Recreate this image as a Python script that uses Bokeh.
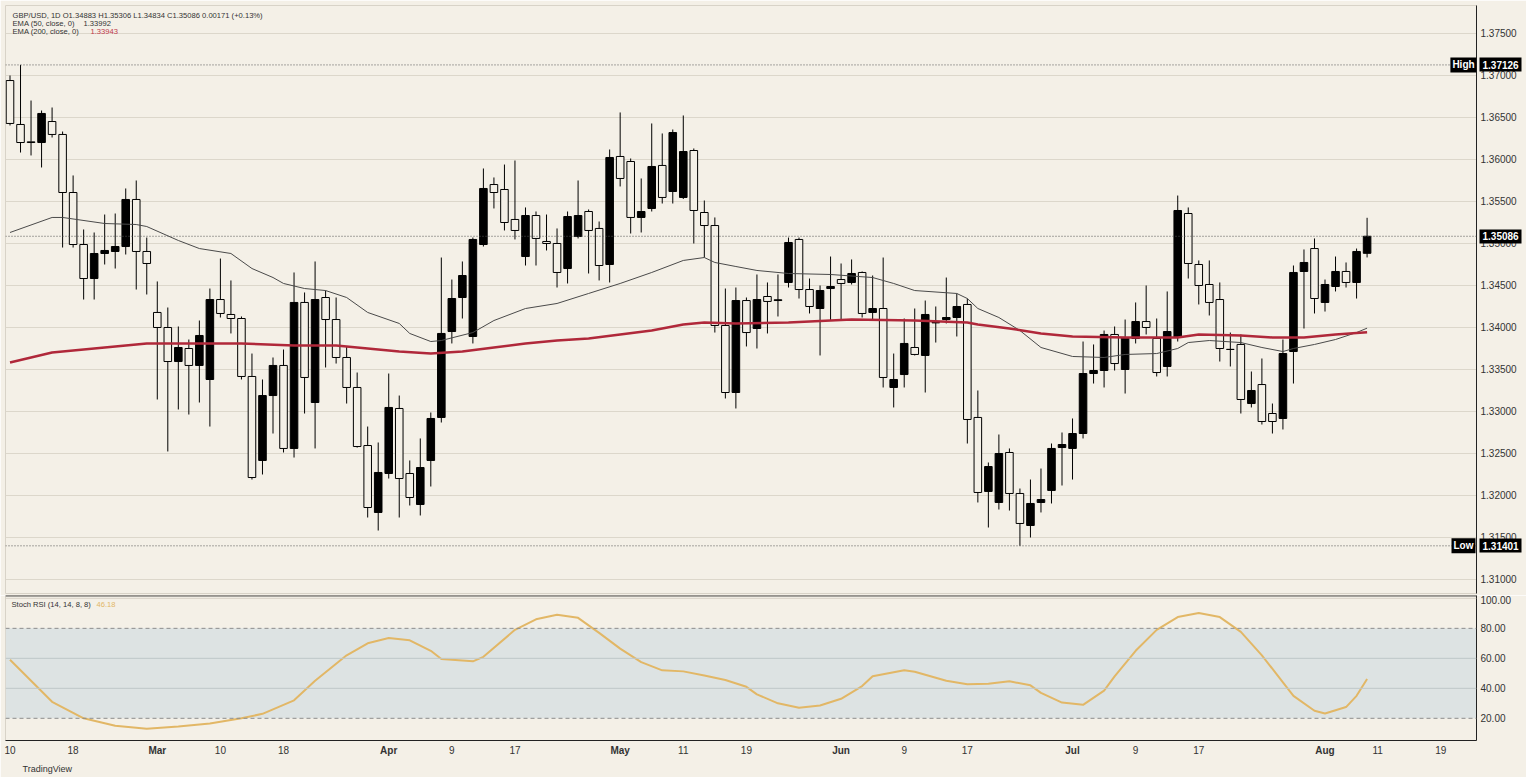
from bokeh.plotting import figure
from bokeh.models import (Range1d, Span, Label, FixedTicker, BoxAnnotation, LinearAxis, Title,
                          NumeralTickFormatter, ColumnDataSource)
from bokeh.layouts import column
from bokeh.embed import file_html
from bokeh.resources import INLINE

# ---------------- data (GBP/USD daily) ----------------
opens = [
    1.36940, 1.36417, 1.36210, 1.36202, 1.36452, 1.36298, 1.35607, 1.34988, 1.34583, 1.34881,
    1.34905, 1.34964, 1.35524, 1.34905, 1.34179, 1.34000, 1.33595, 1.33750, 1.33548, 1.33381,
    1.34333, 1.34155, 1.34107, 1.33417, 1.32417, 1.33190, 1.33548, 1.32560, 1.34298, 1.33107,
    1.34357, 1.34095, 1.33643, 1.33286, 1.32595, 1.31798, 1.32262, 1.33036, 1.32262, 1.31893,
    1.32417, 1.32929, 1.33952, 1.34357, 1.33893, 1.34988, 1.35702, 1.35643, 1.35286, 1.34845,
    1.35333, 1.35024, 1.35000, 1.34702, 1.35083, 1.35381, 1.35179, 1.34750, 1.36036, 1.35976,
    1.35310, 1.35417, 1.35929, 1.35619, 1.35548, 1.36107, 1.35369, 1.35214, 1.34024, 1.33226,
    1.34321, 1.33988, 1.34369, 1.34321, 1.34536, 1.35048, 1.34452, 1.34226, 1.34464, 1.34571,
    1.34536, 1.34655, 1.34179, 1.34226, 1.33286, 1.33440, 1.33762, 1.33667, 1.34060, 1.34095,
    1.34119, 1.34274, 1.32929, 1.32048, 1.31917, 1.32512, 1.32024, 1.31643, 1.31917, 1.32060,
    1.32571, 1.32560, 1.32738, 1.33452, 1.33488, 1.33917, 1.33500, 1.33869, 1.34071, 1.33869,
    1.33536, 1.33881, 1.35357, 1.34750, 1.34512, 1.34333, 1.33740, 1.33798, 1.33095, 1.33321,
    1.32976, 1.32917, 1.33714, 1.34667, 1.34940, 1.34298, 1.34488, 1.34667, 1.34536, 1.34883,
]
highs = [
    1.37000, 1.37126, 1.36702, 1.36583, 1.36619, 1.36333, 1.35810, 1.35167, 1.35131, 1.35345,
    1.35357, 1.35655, 1.35750, 1.35071, 1.34548, 1.34238, 1.34012, 1.33857, 1.34083, 1.34464,
    1.34821, 1.34560, 1.34131, 1.33690, 1.33381, 1.33643, 1.33738, 1.34655, 1.34417, 1.34786,
    1.34440, 1.34357, 1.33774, 1.33464, 1.32821, 1.32631, 1.33452, 1.33190, 1.32417, 1.32679,
    1.32988, 1.34833, 1.34571, 1.34786, 1.35071, 1.35893, 1.35786, 1.35940, 1.35988, 1.35429,
    1.35381, 1.35345, 1.35179, 1.35381, 1.35750, 1.35405, 1.35262, 1.36119, 1.36560, 1.36012,
    1.35774, 1.36429, 1.36310, 1.36357, 1.36524, 1.36131, 1.35512, 1.35310, 1.34464, 1.34476,
    1.34357, 1.34631, 1.34536, 1.34631, 1.35071, 1.35071, 1.34583, 1.34500, 1.34845, 1.34762,
    1.34810, 1.34667, 1.34619, 1.34833, 1.33690, 1.34107, 1.34226, 1.34321, 1.34250, 1.34595,
    1.34405, 1.34345, 1.33250, 1.32393, 1.32726, 1.32560, 1.32083, 1.32190, 1.32321, 1.32619,
    1.32750, 1.32917, 1.33833, 1.33798, 1.33964, 1.34012, 1.34095, 1.34298, 1.34500, 1.34107,
    1.34429, 1.35571, 1.35429, 1.34798, 1.34798, 1.34536, 1.33940, 1.33917, 1.33476, 1.33631,
    1.33095, 1.33857, 1.34738, 1.34929, 1.35060, 1.34571, 1.34845, 1.34774, 1.34940, 1.35306,
]
lows = [
    1.36405, 1.36083, 1.36048, 1.35905, 1.36262, 1.34952, 1.34952, 1.34333, 1.34333, 1.34750,
    1.34702, 1.34869, 1.34452, 1.34393, 1.33143, 1.32524, 1.33024, 1.32964, 1.33107, 1.32821,
    1.34119, 1.33929, 1.33381, 1.32190, 1.32250, 1.32738, 1.32512, 1.32452, 1.32976, 1.32560,
    1.33524, 1.33571, 1.33095, 1.32570, 1.31738, 1.31583, 1.32202, 1.31738, 1.31881, 1.31762,
    1.32107, 1.32869, 1.33810, 1.34107, 1.33810, 1.34964, 1.35417, 1.35155, 1.35048, 1.34738,
    1.34738, 1.34917, 1.34476, 1.34524, 1.35060, 1.34643, 1.34560, 1.34536, 1.35679, 1.35119,
    1.35131, 1.35381, 1.35476, 1.35476, 1.35530, 1.35000, 1.34833, 1.33940, 1.33155, 1.33036,
    1.33774, 1.33750, 1.33929, 1.34131, 1.34476, 1.34345, 1.34167, 1.33667, 1.34083, 1.34083,
    1.34512, 1.34119, 1.34095, 1.33286, 1.33048, 1.33286, 1.33667, 1.33226, 1.33821, 1.34048,
    1.33893, 1.32619, 1.31917, 1.31619, 1.31833, 1.31821, 1.31401, 1.31500, 1.31798, 1.31905,
    1.32119, 1.32190, 1.32679, 1.33333, 1.33286, 1.33488, 1.33214, 1.33810, 1.33917, 1.33417,
    1.33417, 1.33833, 1.34583, 1.34274, 1.34143, 1.33595, 1.33536, 1.32976, 1.33048, 1.32845,
    1.32738, 1.32786, 1.33333, 1.33988, 1.34167, 1.34190, 1.34429, 1.34476, 1.34345, 1.34834,
]
closes = [
    1.36429, 1.36202, 1.36202, 1.36548, 1.36298, 1.35607, 1.34988, 1.34583, 1.34881, 1.34917,
    1.34964, 1.35524, 1.34905, 1.34762, 1.34000, 1.33595, 1.33762, 1.33548, 1.33905, 1.34333,
    1.34167, 1.34107, 1.33417, 1.32214, 1.33190, 1.33548, 1.32560, 1.34298, 1.33405, 1.34333,
    1.34095, 1.33643, 1.33286, 1.32583, 1.31857, 1.32274, 1.33048, 1.32202, 1.31976, 1.32333,
    1.32917, 1.33929, 1.34345, 1.34619, 1.35048, 1.35655, 1.35607, 1.35250, 1.35155, 1.35333,
    1.35060, 1.35000, 1.34655, 1.35321, 1.35333, 1.35155, 1.34738, 1.36024, 1.35774, 1.35310,
    1.35381, 1.35917, 1.35548, 1.36321, 1.36095, 1.35393, 1.35214, 1.34024, 1.33226, 1.34321,
    1.33940, 1.34333, 1.34310, 1.34330, 1.35012, 1.34452, 1.34250, 1.34440, 1.34488, 1.34524,
    1.34643, 1.34167, 1.34226, 1.33405, 1.33381, 1.33810, 1.33679, 1.34155, 1.34055, 1.34119,
    1.34250, 1.32905, 1.32036, 1.32345, 1.32500, 1.32024, 1.31667, 1.31905, 1.31952, 1.32560,
    1.32607, 1.32738, 1.33452, 1.33488, 1.33917, 1.33571, 1.33881, 1.34071, 1.34000, 1.33464,
    1.33952, 1.35393, 1.34762, 1.34500, 1.34298, 1.33750, 1.33738, 1.33143, 1.33250, 1.32881,
    1.32881, 1.33690, 1.34655, 1.34774, 1.34345, 1.34512, 1.34667, 1.34536, 1.34905, 1.35086,
]

ema50_idx = [0, 4, 5, 9, 12, 13, 16, 18, 21, 23, 25, 26, 28, 30, 32, 34, 37, 38, 40, 41,
             44, 46, 49, 52, 55, 58, 61, 64, 66, 67, 69, 71, 74, 78, 82, 84, 86, 90, 91, 92,
             94, 96, 98, 101, 104, 106, 109, 111, 112, 114, 117, 119, 121, 122, 124, 126, 128, 129]
ema50_val = [1.35131, 1.35310, 1.35310, 1.35238, 1.35226, 1.35202, 1.35036, 1.34940, 1.34881, 1.34702,
             1.34595, 1.34524, 1.34464, 1.34440, 1.34357, 1.34179, 1.34048, 1.33929, 1.33833, 1.33845,
             1.33940, 1.34083, 1.34226, 1.34286, 1.34405, 1.34524, 1.34655, 1.34798, 1.34833, 1.34774,
             1.34726, 1.34679, 1.34643, 1.34631, 1.34595, 1.34524, 1.34440, 1.34405, 1.34345, 1.34226,
             1.34119, 1.33964, 1.33762, 1.33655, 1.33643, 1.33679, 1.33690, 1.33750, 1.33821, 1.33845,
             1.33821, 1.33762, 1.33714, 1.33750, 1.33798, 1.33857, 1.33940, 1.33992]

ema200_idx = [0, 4, 9, 13, 18, 22, 27, 31, 33, 35, 37, 40, 43, 46, 49, 52, 55, 58, 61, 64,
              66, 69, 74, 80, 86, 91, 92, 95, 98, 101, 106, 111, 113, 117, 120, 123, 126, 129]
ema200_val = [1.33583, 1.33702, 1.33762, 1.33810, 1.33810, 1.33810, 1.33786, 1.33786, 1.33762, 1.33738,
              1.33714, 1.33690, 1.33714, 1.33762, 1.33810, 1.33845, 1.33869, 1.33917, 1.33964, 1.34036,
              1.34060, 1.34048, 1.34060, 1.34095, 1.34083, 1.34060, 1.34036, 1.33988, 1.33929, 1.33893,
              1.33881, 1.33881, 1.33917, 1.33905, 1.33881, 1.33881, 1.33917, 1.33943]

stoch_idx = [0, 4, 7, 10, 13, 16, 19, 22, 24, 27, 29, 32, 34, 36, 38, 40, 41, 44, 45, 48,
             50, 52, 54, 56, 58, 60, 62, 64, 66, 68, 70, 71, 73, 75, 77, 79, 81, 82, 85, 86,
             89, 91, 93, 95, 97, 98, 100, 102, 104, 105, 107, 109, 111, 113, 115, 117, 119, 121, 122, 124,
             125, 127, 128, 129]
stoch_val = [59, 31, 20, 15, 13, 14.5, 16.5, 20, 23, 32, 45, 62, 70, 73.5, 72, 65, 59.5, 58, 61, 79,
             86, 89, 87, 77, 66.5, 57.5, 52, 51.3, 48.5, 45.5, 41, 36, 30, 27, 28.5, 33, 41.5, 48, 52, 51,
             45, 42.7, 43, 44.7, 42, 37, 30.5, 29, 38.5, 48, 65, 79, 87.5, 90.2, 87.5, 77.6, 62, 44, 35, 25,
             23.2, 27.5, 35, 46.18]

price_ticks = [1.310, 1.315, 1.320, 1.325, 1.330, 1.335, 1.340, 1.345, 1.350,
               1.355, 1.360, 1.365, 1.370, 1.375]
stoch_ticks = [20, 40, 60, 80, 100]

day_idx = [0, 6, 20, 26, 42, 48, 64, 70, 85, 91, 107, 113, 130, 136]
day_lbl = ["10", "18", "10", "18", "9", "17", "11", "19", "9", "17", "9", "17", "11", "19"]
month_idx = [14, 36, 58, 79, 101, 125]
month_lbl = ["Mar", "Apr", "May", "Jun", "Jul", "Aug"]

high_val, low_val, last_val = 1.37126, 1.31401, 1.35086

# ---------------- layout / styling ----------------
BG = "#f4f0e7"
FONT = "Liberation Sans"
W = 1526
LEFT = 5
FRAME_W = 1471
RIGHT = W - LEFT - FRAME_W
PRICE_TOP = 5
PRICE_H = 588
STOCH_H = 146
STOCH_BOTTOM = 36
AXIS_W = 41        # width taken by the regular price axis labels
DAY_AXIS_H = 17    # height taken by the day-number axis

XR0, XR1 = -0.428, 139.40
PY0, PY1 = 1.308333, 1.378333
SY0, SY1 = 5.2, 101.9


def style_axis(a):
    a.major_tick_out = 0
    a.major_tick_in = 0
    a.minor_tick_out = 0
    a.minor_tick_in = 0
    a.axis_line_color = "#222222"
    a.major_label_text_font = FONT
    a.major_label_text_font_size = "10px"
    a.major_label_text_color = "#333333"


n = len(opens)
xs = list(range(n))
up = [c >= o for o, c in zip(opens, closes)]
src = ColumnDataSource(dict(
    x=xs, high=highs, low=lows,
    top=[max(o, c) for o, c in zip(opens, closes)],
    bottom=[min(o, c) for o, c in zip(opens, closes)],
    fill=["#000000" if u else BG for u in up],
))

xr = Range1d(XR0, XR1)

p = figure(width=W, height=PRICE_TOP + PRICE_H + 2, x_range=xr, y_range=Range1d(PY0, PY1),
           output_backend="svg", toolbar_location=None,
           x_axis_location=None, y_axis_location="right",
           background_fill_color=BG, border_fill_color=BG,
           min_border_left=LEFT, min_border_right=RIGHT, min_border_top=PRICE_TOP,
           min_border_bottom=2, outline_line_color="#d8d3c8")

ay = p.yaxis[0]
style_axis(ay)
ay.ticker = FixedTicker(ticks=price_ticks)
ay.formatter = NumeralTickFormatter(format="0.00000")
ay.major_label_standoff = 4
p.ygrid.ticker = FixedTicker(ticks=price_ticks)
p.ygrid.grid_line_color = "#dcd7cb"
p.xgrid.visible = False

# black value tags on the price scale (drawn as wide ticks of a second axis)
tag_ax = LinearAxis(ticker=FixedTicker(ticks=[high_val, last_val, low_val]),
                    formatter=NumeralTickFormatter(format="0.00000"))
style_axis(tag_ax)
tag_ax.axis_line_color = None
tag_ax.major_tick_in = AXIS_W - 1
tag_ax.major_tick_out = 2
tag_ax.major_tick_line_width = 14
tag_ax.major_tick_line_color = "#000000"
tag_ax.major_tick_line_cap = "butt"
tag_ax.major_label_standoff = -(AXIS_W + 2 - 4)
tag_ax.major_label_text_color = "#ffffff"
tag_ax.major_label_text_font_style = "bold"
p.add_layout(tag_ax, "right")

for lv in (high_val, last_val, low_val):
    p.add_layout(Span(location=lv, dimension="width", line_color="#555555",
                      line_dash="1 2", line_width=1))

p.segment(x0="x", y0="high", x1="x", y1="low", source=src, line_color="#000000", line_width=1)
p.vbar(x="x", top="top", bottom="bottom", width=0.72, fill_color="fill",
       line_color="#000000", line_width=1, source=src)

p.line(ema50_idx, ema50_val, line_color="#4a4a4a", line_width=1)
p.line(ema200_idx, ema200_val, line_color="#b0283a", line_width=2.5)


def txt(fig, x, y, t, color="#333333", size="7.6px", bold=False, align="left"):
    fig.add_layout(Label(x=x, y=y, x_units="screen", y_units="screen", text=t,
                         text_font=FONT, text_font_size=size, text_color=color,
                         text_baseline="middle", text_align=align,
                         text_font_style="bold" if bold else "normal"))


# legend texts (top-left)
txt(p, 7, PRICE_H - 10, "GBP/USD, 1D  O1.34883  H1.35306  L1.34834  C1.35086  0.00171 (+0.13%)")
txt(p, 7, PRICE_H - 18, "EMA (50, close, 0)")
txt(p, 78, PRICE_H - 18, "1.33992")
txt(p, 7, PRICE_H - 26, "EMA (200, close, 0)")
txt(p, 85, PRICE_H - 26, "1.33943", color="#c0394b")

# High / Low markers just left of the price scale
for v, t in ((high_val, "High"), (low_val, "Low")):
    p.add_layout(Label(x=FRAME_W - 13, y=v, x_units="screen", y_units="data", text=t,
                       text_font=FONT, text_font_size="10px", text_color="#ffffff",
                       text_font_style="bold", text_baseline="middle", text_align="center",
                       background_fill_color="#000000", background_fill_alpha=1.0, padding=2))

# ---------------- Stoch RSI pane ----------------
s = figure(width=W, height=STOCH_H + STOCH_BOTTOM, x_range=xr, y_range=Range1d(SY0, SY1),
           output_backend="svg", toolbar_location=None,
           x_axis_location="below", y_axis_location="right",
           background_fill_color=BG, border_fill_color=BG,
           min_border_left=LEFT, min_border_right=RIGHT, min_border_top=0,
           min_border_bottom=STOCH_BOTTOM, outline_line_color="#d8d3c8")
s.grid.visible = False

sy = s.yaxis[0]
style_axis(sy)
sy.ticker = FixedTicker(ticks=stoch_ticks)
sy.formatter = NumeralTickFormatter(format="0.00")
sy.major_label_standoff = 4

ax_t = s.xaxis[0]
style_axis(ax_t)
ax_t.ticker = FixedTicker(ticks=day_idx)
ax_t.major_label_overrides = {i: l for i, l in zip(day_idx, day_lbl)}
ax_t.major_label_standoff = 5

# bold month names on the same row as the day numbers
mon_ax = LinearAxis(ticker=FixedTicker(ticks=month_idx),
                    major_label_overrides={i: l for i, l in zip(month_idx, month_lbl)})
style_axis(mon_ax)
mon_ax.axis_line_color = None
mon_ax.major_label_text_font_style = "bold"
mon_ax.major_label_standoff = -(DAY_AXIS_H - 5)
s.add_layout(mon_ax, "below")

s.add_layout(Title(text="TradingView", align="left", offset=17, standoff=7,
                   text_font=FONT, text_font_size="9px", text_color="#333333",
                   text_font_style="normal"), "below")

s.add_layout(BoxAnnotation(bottom=20, top=80, fill_color="#dde3e3", fill_alpha=1.0,
                           line_color=None, level="underlay"))
for lv in (40, 60):
    s.add_layout(Span(location=lv, dimension="width", line_color="#bfc7c8", line_width=1))
s.add_layout(Span(location=100, dimension="width", line_color="#d8d3c8", line_width=1))
for lv in (20, 80):
    s.add_layout(Span(location=lv, dimension="width", line_color="#8c8c8c",
                      line_dash="4 3", line_width=1))
s.add_layout(Span(location=SY1, dimension="width", line_color="#555555", line_width=2))

s.line(stoch_idx, stoch_val, line_color="#e2b766", line_width=2)

txt(s, 6, STOCH_H - 10, "Stoch RSI (14, 14, 8, 8)")
txt(s, 91, STOCH_H - 10, "46.18", color="#e2b766")

layout = column(p, s, spacing=0)
open("out.html", "w").write(file_html(layout, INLINE))
